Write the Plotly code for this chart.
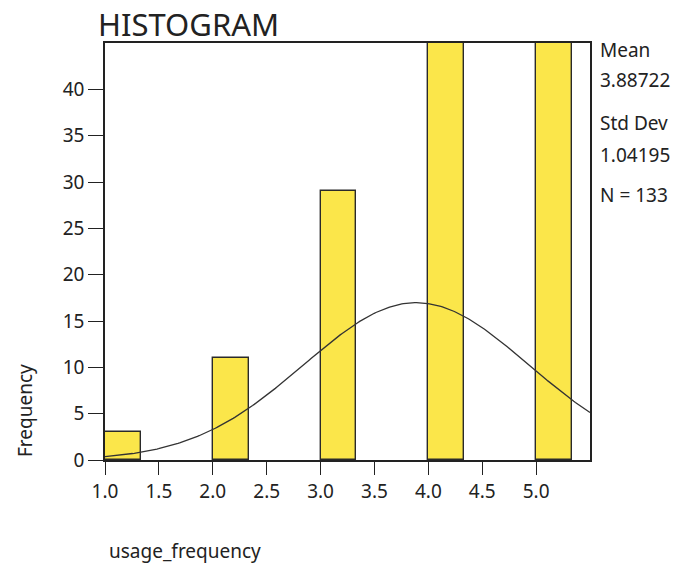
import numpy as np
import plotly.graph_objects as go

bin_starts = [1.0, 2.0, 3.0, 4.0, 5.0]
counts = [3, 11, 29, 45, 45]
bin_width = 1/3
mean_val = 3.88722
std_val = 1.04195
n_val = 133
x_ticks = [1.0, 1.5, 2.0, 2.5, 3.0, 3.5, 4.0, 4.5, 5.0]
y_ticks = [0, 5, 10, 15, 20, 25, 30, 35, 40]

FONT = "Noto Sans"
centers = [s + bin_width/2 for s in bin_starts]

xc = np.linspace(1.0, 5.5, 300)
yc = n_val * bin_width * np.exp(-0.5*((xc-mean_val)/std_val)**2) / (std_val*np.sqrt(2*np.pi))

fig = go.Figure()
fig.add_trace(go.Bar(x=centers, y=counts, width=bin_width,
                     marker=dict(color="#FBE64A", line=dict(color="#2a2a2a", width=1.4)),
                     showlegend=False, hoverinfo="x+y"))
fig.add_trace(go.Scatter(x=xc, y=yc, mode="lines", line=dict(color="#333333", width=1.3),
                         showlegend=False))

fig.update_layout(
    width=695, height=568,
    margin=dict(l=105, r=105, t=43, b=108),
    plot_bgcolor="white", paper_bgcolor="white",
    font=dict(family=FONT, size=19, color="#222"),
    bargap=0,
    xaxis=dict(range=[1.0, 5.5], tickvals=x_ticks, ticktext=[f"{v:.1f}" for v in x_ticks],
               showline=True, linecolor="#222", linewidth=1.5, mirror=True,
               ticks="outside", ticklen=13, tickwidth=1.3, tickcolor="#222",
               showgrid=False, zeroline=False, tickfont=dict(size=19)),
    yaxis=dict(range=[0, 45], tickvals=y_ticks,
               showline=True, linecolor="#222", linewidth=1.5, mirror=True,
               ticks="outside", ticklen=15, tickwidth=1.3, tickcolor="#222",
               showgrid=False, zeroline=False, tickfont=dict(size=19)),
)

ann = [
    dict(text="Mean", x=598, y=50, size=19),
    dict(text="3.88722", x=598, y=80, size=19),
    dict(text="Std Dev", x=598, y=123, size=19),
    dict(text="1.04195", x=598, y=155, size=19),
    dict(text="N = 133", x=598, y=195, size=19),
    dict(text="usage_frequency", x=107, y=551, size=19),
]
for a in ann:
    fig.add_annotation(text=a["text"], xref="paper", yref="paper",
                       x=(a["x"]-105)/485, y=(460-a["y"])/417,
                       xanchor="left", yanchor="middle", showarrow=False,
                       font=dict(family=FONT, size=a["size"], color="#222"))
fig.add_annotation(text="HISTOGRAM", xref="paper", yref="paper",
                   x=(96-105)/485, y=(460-1)/417,
                   xanchor="left", yanchor="top", showarrow=False,
                   font=dict(family=FONT, size=31, color="#222"))
fig.add_annotation(text="Frequency", xref="paper", yref="paper",
                   x=(25-105)/485, y=(460-411)/417,
                   xanchor="center", yanchor="middle", textangle=-90, showarrow=False,
                   font=dict(family=FONT, size=19, color="#222"))

fig.write_html("out.html")
